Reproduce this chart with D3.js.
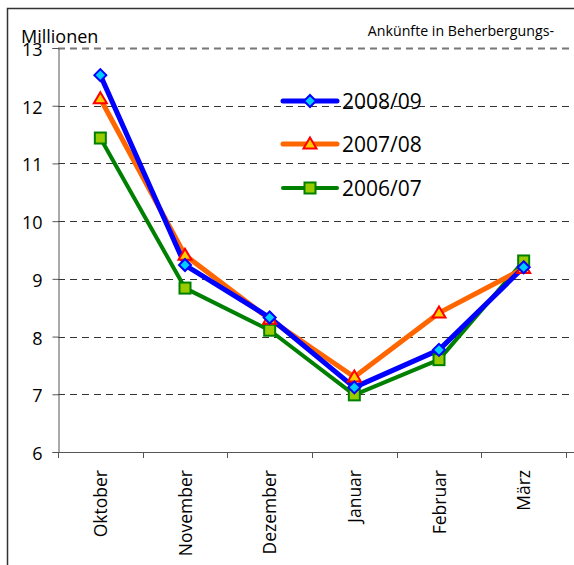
<!DOCTYPE html>
<html>
<head>
<meta charset="utf-8">
<script src="https://cdn.jsdelivr.net/npm/d3@7"></script>
<style>
  body { margin: 0; background: #fff; }
  svg text { font-family: "Open Sans", "DejaVu Sans", sans-serif; fill: #000; }
</style>
</head>
<body>
<div id="chart"></div>
<script>
const width = 574;
const height = 565;

// Monate (Oktober bis März)
const months = ["Oktober", "November", "Dezember", "Januar", "Februar", "März"];
const yTicks = [6, 7, 8, 9, 10, 11, 12, 13];

// Ankünfte in Millionen
const s200809 = [12.53, 9.24, 8.33, 7.12, 7.77, 9.2];
const s200708 = [12.12, 9.41, 8.3, 7.3, 8.41, 9.18];
const s200607 = [11.44, 8.84, 8.11, 6.99, 7.6, 9.31];

const seriesNames = ["2008/09", "2007/08", "2006/07"];

const series = [
  { name: seriesNames[0], values: s200809, line: "#0000ff", fill: "#00ccff", stroke: "#0000ff", shape: "diamond", lw: 5 },
  { name: seriesNames[1], values: s200708, line: "#ff6600", fill: "#ffcc00", stroke: "#ff0000", shape: "triangle", lw: 5 },
  { name: seriesNames[2], values: s200607, line: "#008000", fill: "#99cc00", stroke: "#008000", shape: "square", lw: 4 },
];

const pLeft = 58, pRight = 566, pTop = 48, pBottom = 452;

const svg = d3.select("#chart").append("svg")
  .attr("width", width)
  .attr("height", height);

// Rahmen
svg.append("rect")
  .attr("x", 7.5).attr("y", 8.5)
  .attr("width", width + 10).attr("height", height + 10)
  .attr("fill", "none").attr("stroke", "#333").attr("stroke-width", 1.5);

const xScale = d3.scaleBand().domain(months).range([pLeft, pRight]);
const yScale = d3.scaleLinear().domain([6, 13]).range([pBottom, pTop]);

// Gitterlinien
svg.append("g")
  .selectAll("line")
  .data(yTicks.slice(1))
  .enter()
  .append("line")
  .attr("x1", pLeft).attr("x2", width)
  .attr("y1", (d) => Math.round(yScale(d)) + 0.5)
  .attr("y2", (d) => Math.round(yScale(d)) + 0.5)
  .attr("stroke", (d) => (d === 13 ? "#777" : "#333"))
  .attr("stroke-width", (d) => (d === 13 ? 2 : 1))
  .attr("stroke-dasharray", "7,5");

// y-Achse
const yAxis = d3.axisLeft(yScale).tickValues(yTicks).tickFormat(d3.format("d")).tickSize(6).tickPadding(10);
const yAxisG = svg.append("g").attr("transform", "translate(" + (pLeft + 0.5) + ",0)").call(yAxis);
yAxisG.select(".domain").attr("stroke", "#555");
yAxisG.selectAll(".tick line").attr("stroke", "#555");
yAxisG.selectAll("text").style("font-size", "18px").attr("dy", "0.42em");

// x-Achse
svg.append("line")
  .attr("x1", pLeft).attr("x2", width)
  .attr("y1", pBottom + 0.5).attr("y2", pBottom + 0.5)
  .attr("stroke", "#555");

const bounds = months.map((m) => xScale(m)).concat([xScale(months[months.length - 1]) + xScale.bandwidth()]);
svg.append("g")
  .selectAll("line")
  .data(bounds)
  .enter()
  .append("line")
  .attr("x1", (d) => Math.round(d) + 0.5).attr("x2", (d) => Math.round(d) + 0.5)
  .attr("y1", pBottom).attr("y2", pBottom + 6)
  .attr("stroke", "#555");

svg.append("g")
  .selectAll("text")
  .data(months)
  .enter()
  .append("text")
  .attr("transform", (d) => "translate(" + (xScale(d) + xScale.bandwidth() / 2 + 6.5) + "," + (pBottom + 18) + ") rotate(-90)")
  .attr("text-anchor", "end")
  .style("font-size", "17.5px")
  .text((d) => d);

// Texte
svg.append("text").attr("x", 21).attr("y", 43).style("font-size", "18px").text("Millionen");
svg.append("text").attr("x", 554).attr("y", 36).attr("text-anchor", "end")
  .style("font-size", "14.2px").text("Ankünfte in Beherbergungs-");

// Marker
function marker(g, shape, s) {
  if (shape === "diamond") {
    g.append("path").attr("d", "M0," + (-s - 0.5) + "L" + (s + 0.5) + ",0L0," + (s + 0.5) + "L" + (-s - 0.5) + ",0Z");
  } else if (shape === "triangle") {
    g.append("path").attr("d", "M0," + (-s - 1) + "L" + (s + 1) + "," + (s - 1) + "L" + (-s - 1) + "," + (s - 1) + "Z");
  } else {
    g.append("rect").attr("x", -s).attr("y", -s).attr("width", 2 * s).attr("height", 2 * s);
  }
}

const line = d3.line()
  .x((d, i) => xScale(months[i]) + xScale.bandwidth() / 2)
  .y((d) => yScale(d));

series.slice().reverse().forEach((s) => {
  svg.append("path")
    .datum(s.values)
    .attr("d", line)
    .attr("fill", "none")
    .attr("stroke", s.line)
    .attr("stroke-width", s.lw)
    .attr("stroke-linejoin", "round");
});

series.slice().reverse().forEach((s) => {
  s.values.forEach((v, i) => {
    const g = svg.append("g")
      .attr("transform", "translate(" + (xScale(months[i]) + xScale.bandwidth() / 2) + "," + yScale(v) + ")")
      .attr("fill", s.fill).attr("stroke", s.stroke).attr("stroke-width", 2);
    marker(g, s.shape, 5.5);
  });
});

// Legende
const legY = [101, 144, 188];
series.forEach((s, i) => {
  const lg = svg.append("g").attr("transform", "translate(283," + legY[i] + ")");
  lg.append("line").attr("x1", 0).attr("x2", 54).attr("y1", 0).attr("y2", 0)
    .attr("stroke", s.line).attr("stroke-width", s.lw).attr("stroke-linecap", "round");
  const m = lg.append("g").attr("transform", "translate(27,0)")
    .attr("fill", s.fill).attr("stroke", s.stroke).attr("stroke-width", 2);
  marker(m, s.shape, 5.5);
  lg.append("text").attr("x", 59).attr("y", 0).attr("dy", "0.36em")
    .style("font-size", "21px").text(s.name);
});
</script>
</body>
</html>
